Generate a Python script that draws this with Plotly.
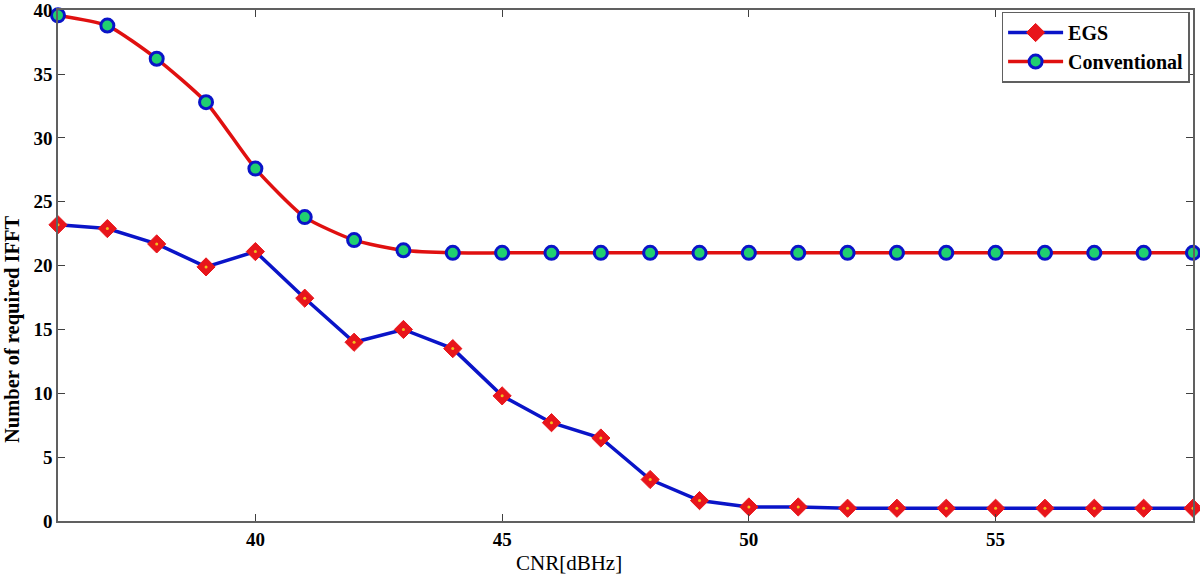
import plotly.graph_objects as go

cnr = list(range(36, 60))
egs = [23.2, 22.9, 21.7, 19.9, 21.1, 17.45, 14.0, 15.0, 13.5, 9.8, 7.7, 6.5, 3.25, 1.6,
       1.1, 1.1, 1.0, 1.0, 1.0, 1.0, 1.0, 1.0, 1.0, 1.0]
conventional = [39.6, 38.8, 36.2, 32.8, 27.6, 23.8, 22.0, 21.2, 21.0, 21.0, 21.0, 21.0,
                21.0, 21.0, 21.0, 21.0, 21.0, 21.0, 21.0, 21.0, 21.0, 21.0, 21.0, 21.0]
x_ticks = [40, 45, 50, 55]
y_ticks = [0, 5, 10, 15, 20, 25, 30, 35, 40]

font_family = "Liberation Serif, Times New Roman, serif"

fig = go.Figure()
fig.add_trace(go.Scatter(
    x=cnr, y=egs, name="<b>EGS</b>", mode="lines+markers", cliponaxis=False,
    line=dict(color="#0a14c8", width=3.5),
    marker=dict(symbol="diamond", size=14, color="#e8151b", line=dict(color="#e8151b", width=1)),
))
fig.add_trace(go.Scatter(
    x=cnr, y=egs, mode="markers", showlegend=False, hoverinfo="skip", cliponaxis=False,
    marker=dict(symbol="circle", size=3, color="#f0c020"),
))
fig.add_trace(go.Scatter(
    x=cnr, y=conventional, name="<b>Conventional</b>", mode="lines+markers", cliponaxis=False,
    line=dict(color="#e01010", width=3.5, shape="spline", smoothing=0.6),
    marker=dict(symbol="circle", size=13, color="#20d070", line=dict(color="#0a14c8", width=3)),
))

axis_common = dict(
    showline=True, linecolor="#606060", linewidth=1.5, mirror="ticks",
    ticks="inside", ticklen=7, tickcolor="#404040", tickwidth=1,
    showgrid=False, zeroline=False, automargin=False, ticklabeloverflow="allow",
    tickfont=dict(family=font_family, size=19, color="black"),
)

fig.update_layout(
    width=1200, height=577,
    margin=dict(l=58, r=7, t=10, b=56),
    paper_bgcolor="white", plot_bgcolor="white",
    font=dict(family=font_family, color="black"),
    xaxis=dict(range=[36, 59], tickvals=x_ticks, ticktext=[f"<b>{v}</b>" for v in x_ticks],
               **axis_common),
    yaxis=dict(range=[0, 40.02], tickvals=y_ticks, ticktext=[f"<b>{v}</b>" for v in y_ticks],
               **axis_common),
    legend=dict(x=0.997, y=0.997, xanchor="right", yanchor="top",
                bgcolor="white", bordercolor="#606060", borderwidth=1.5,
                font=dict(family=font_family, size=20, color="black"),
                tracegroupgap=0, itemwidth=55),
    showlegend=True,
    annotations=[
        dict(text="CNR[dBHz]", xref="paper", yref="paper", x=0.45, y=-0.083,
             xanchor="center", yanchor="middle", showarrow=False,
             font=dict(family=font_family, size=21, color="black")),
        dict(text="<b>Number of required IFFT</b>", xref="paper", yref="paper", x=-0.04, y=0.375,
             xanchor="center", yanchor="middle", showarrow=False, textangle=-90,
             font=dict(family=font_family, size=20.5, color="black")),
    ],
)

fig.write_html(
    "out.html",
    config={"displayModeBar": False},
    post_script="document.body.style.margin='0';document.body.style.overflow='hidden';",
)
